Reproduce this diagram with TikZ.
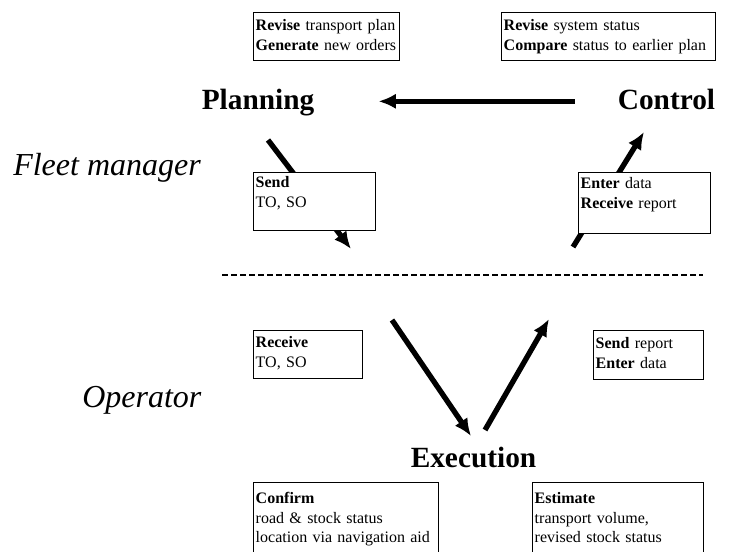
\documentclass[tikz,border=0pt]{standalone}
\usepackage{fontspec}
\setmainfont{Liberation Serif}
\usetikzlibrary{shapes,arrows.meta}
\tikzstyle{task} = [rectangle, draw, fill=white, line width=1.1pt, anchor=north west,
    inner xsep=1.5pt, inner ysep=0pt, align=left, font=\fontsize{12}{14.5}\selectfont]
\tikzstyle{phase} = [inner sep=0pt, anchor=base, text height=17pt, text depth=4pt,
    font=\fontsize{22}{26}\selectfont\bfseries]
\tikzstyle{role} = [inner sep=0pt, anchor=base west, font=\fontsize{24}{28}\selectfont\itshape]
\tikzstyle{line} = [draw, line width=4pt, -{Latex[length=13pt,width=11.5pt]}]

\begin{document}
\begin{tikzpicture}[x=0.75pt, y=-0.75pt]
  \useasboundingbox (0,0) rectangle (734,552);
  \node [role] (fleet) at (13,176) {Fleet manager};
  \node [role] (oper) at (82,407) {Operator};
  \node [phase] (plan) at (258,110) {Planning};
  \node [phase] (ctrl) at (666.5,110) {Control};
  \node [phase] (exec) at (473.5,467) {Execution};
  % arrow ends
  \coordinate (planout) at (268,140);
  \coordinate (sendin) at (351,249);
  \coordinate (enterout) at (573,247);
  \coordinate (ctrlin) at (644,132);
  \coordinate (recvout) at (392,320);
  \coordinate (execin) at (471,436);
  \coordinate (execout) at (485,430);
  \coordinate (reportin) at (549,319);
  \coordinate (divl) at (222,275);
  \coordinate (divr) at (703,275);
  \path [line, shorten <=32pt, shorten >=48pt] (ctrl.west) -- (plan.east);
  \path [line] (planout) -- (sendin);
  \path [line] (enterout) -- (ctrlin);
  \path [line] (recvout) -- (execin);
  \path [line] (execout) -- (reportin);
  \draw [line width=1.1pt, dash pattern=on 4.5pt off 2.25pt] (divl) -- (divr);
  % task boxes
  \node [task, text width=106.5pt, text height=13.5pt, text depth=22.5pt] (revplan) at (253,12)
    {\textbf{Revise} transport plan\\\textbf{Generate} new orders};
  \node [task, text width=157.5pt, text height=13.5pt, text depth=22.5pt] (revstat) at (501,12)
    {\textbf{Revise} system status\\\textbf{Compare} status to earlier plan};
  \node [task, text width=88.5pt, text height=11.25pt, text depth=32.25pt] (sendto) at (253,172)
    {\textbf{Send}\\TO, SO};
  \node [task, text width=96pt, text height=12pt, text depth=33.75pt] (enterrec) at (578,172)
    {\textbf{Enter} data\\\textbf{Receive} report};
  \node [task, text width=78.75pt, text height=12.75pt, text depth=23.25pt] (recvto) at (253,330)
    {\textbf{Receive}\\TO, SO};
  \node [task, text width=79.5pt, text height=13.5pt, text depth=23.25pt] (sendrep) at (593,330)
    {\textbf{Send} report\\\textbf{Enter} data};
  \node [task, text width=135.75pt, text height=15.75pt, text depth=52.5pt] (confirm) at (253,482)
    {\textbf{Confirm}\\road \& stock status\\location via navigation aid};
  \node [task, text width=125.25pt, text height=15.75pt, text depth=52.5pt] (estim) at (532,482)
    {\textbf{Estimate}\\transport volume,\\revised stock status};
\end{tikzpicture}
\end{document}
